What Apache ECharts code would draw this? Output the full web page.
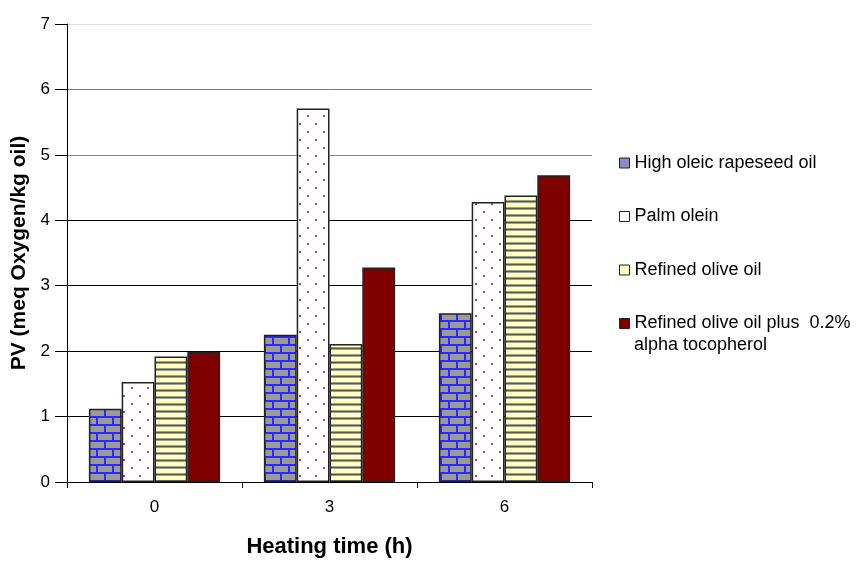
<!DOCTYPE html>
<html><head><meta charset="utf-8">
<script src="https://cdn.jsdelivr.net/npm/echarts@6/dist/echarts.min.js"></script>
<style>html,body{margin:0;padding:0;background:#fff}#c{width:859px;height:563px}</style>
</head><body><div id="c"></div>
<script>
const categories = ['0', '3', '6'];
const seriesNames = ['High oleic rapeseed oil', 'Palm olein', 'Refined olive oil', 'Refined olive oil plus  0.2%\nalpha tocopherol'];
const rapeseed = [1.12, 2.25, 2.58];
const palmOlein = [1.53, 5.71, 4.28];
const refinedOlive = [1.92, 2.11, 4.38];
const refinedOliveToco = [1.99, 3.28, 4.69];
const yTicks = [0, 1, 2, 3, 4, 5, 6, 7];

function mk(w, h, draw) { const c = document.createElement('canvas'); c.width = w; c.height = h; draw(c.getContext('2d')); return c; }
const brick = mk(16, 16, g => {
  g.fillStyle = '#9a9a9a'; g.fillRect(0, 0, 16, 16);
  g.fillStyle = '#2a2aff';
  g.fillRect(0, 0, 16, 2); g.fillRect(0, 8, 16, 2);
  g.fillRect(0, 0, 2, 8); g.fillRect(8, 8, 2, 8);
});
const dots = mk(16, 16, g => {
  g.fillStyle = '#ffffff'; g.fillRect(0, 0, 16, 16);
  g.fillStyle = '#b83a78';
  g.fillRect(3, 3, 2, 2); g.fillRect(11, 11, 2, 2);
});
const stripes = mk(4, 7, g => {
  g.fillStyle = '#ffffc4'; g.fillRect(0, 0, 4, 7);
  g.fillStyle = '#5a5a4a'; g.fillRect(0, 5, 4, 1);
  g.fillStyle = '#a0a090'; g.fillRect(0, 4, 4, 1); g.fillRect(0, 6, 4, 1);
});
const fills = [{ image: brick, repeat: 'repeat' }, { image: dots, repeat: 'repeat' }, { image: stripes, repeat: 'repeat' }, '#800000'];
const legendColors = ['#8c8cc4', '#ffffff', '#ffffc4', '#800000'];
const values = [rapeseed, palmOlein, refinedOlive, refinedOliveToco];

const chart = echarts.init(document.getElementById('c'), null, { renderer: 'canvas' });
const font = 'Liberation Sans, Arial, sans-serif';
const legendFont = 18;
chart.setOption({
  animation: false,
  textStyle: { fontFamily: font },
  grid: { left: 67, right: 267, top: 24, bottom: 78, containLabel: false },
  legend: {
    orient: 'vertical', left: 619, top: 152, padding: 0, itemGap: 31.5, itemWidth: 10, itemHeight: 10, icon: 'rect',
    formatter: n => n.split('\n')[0],
    textStyle: { fontSize: legendFont, color: '#000', fontFamily: font, lineHeight: 22 },
    data: seriesNames.map((n, i) => ({ name: n, itemStyle: { color: legendColors[i], borderColor: '#222', borderWidth: 1 } }))
  },
  graphic: [{
    type: 'text', left: 634, top: 336,
    style: { text: seriesNames[3].split('\n')[1], fontSize: legendFont, fontFamily: font, fill: '#000' }
  }],
  xAxis: {
    type: 'category', data: categories,
    name: 'Heating time (h)', nameLocation: 'middle', nameGap: 54,
    nameTextStyle: { fontSize: 22, fontWeight: 'bold', color: '#000', fontFamily: font },
    axisLine: { lineStyle: { color: '#000', width: 1 } },
    axisTick: { show: true, alignWithLabel: false, length: 6, lineStyle: { color: '#000' } },
    axisLabel: { fontSize: 17, color: '#000', margin: 17 }
  },
  yAxis: {
    type: 'value', min: 0, max: 7, interval: 1,
    name: 'PV (meq Oxygen/kg oil)', nameLocation: 'middle', nameGap: 35, nameRotate: 90,
    nameTextStyle: { fontSize: 21, fontWeight: 'bold', color: '#000', fontFamily: font },
    axisLine: { show: true, lineStyle: { color: '#000', width: 1 } },
    axisTick: { show: true, length: 12, lineStyle: { color: '#000' } },
    axisLabel: { fontSize: 17, color: '#000', margin: 17, formatter: v => yTicks.includes(v) ? String(v) : '' },
    splitLine: { show: true, lineStyle: { color: ['#000', '#000', '#000', '#000', '#000', '#888', '#777', '#dddddd'], width: 1 } }
  },
  series: values.map((v, i) => ({
    name: seriesNames[i], type: 'bar', data: v, barCategoryGap: '25%', barGap: '0%',
    itemStyle: { color: fills[i], borderColor: '#222', borderWidth: 1.5 }
  }))
});
</script></body></html>
